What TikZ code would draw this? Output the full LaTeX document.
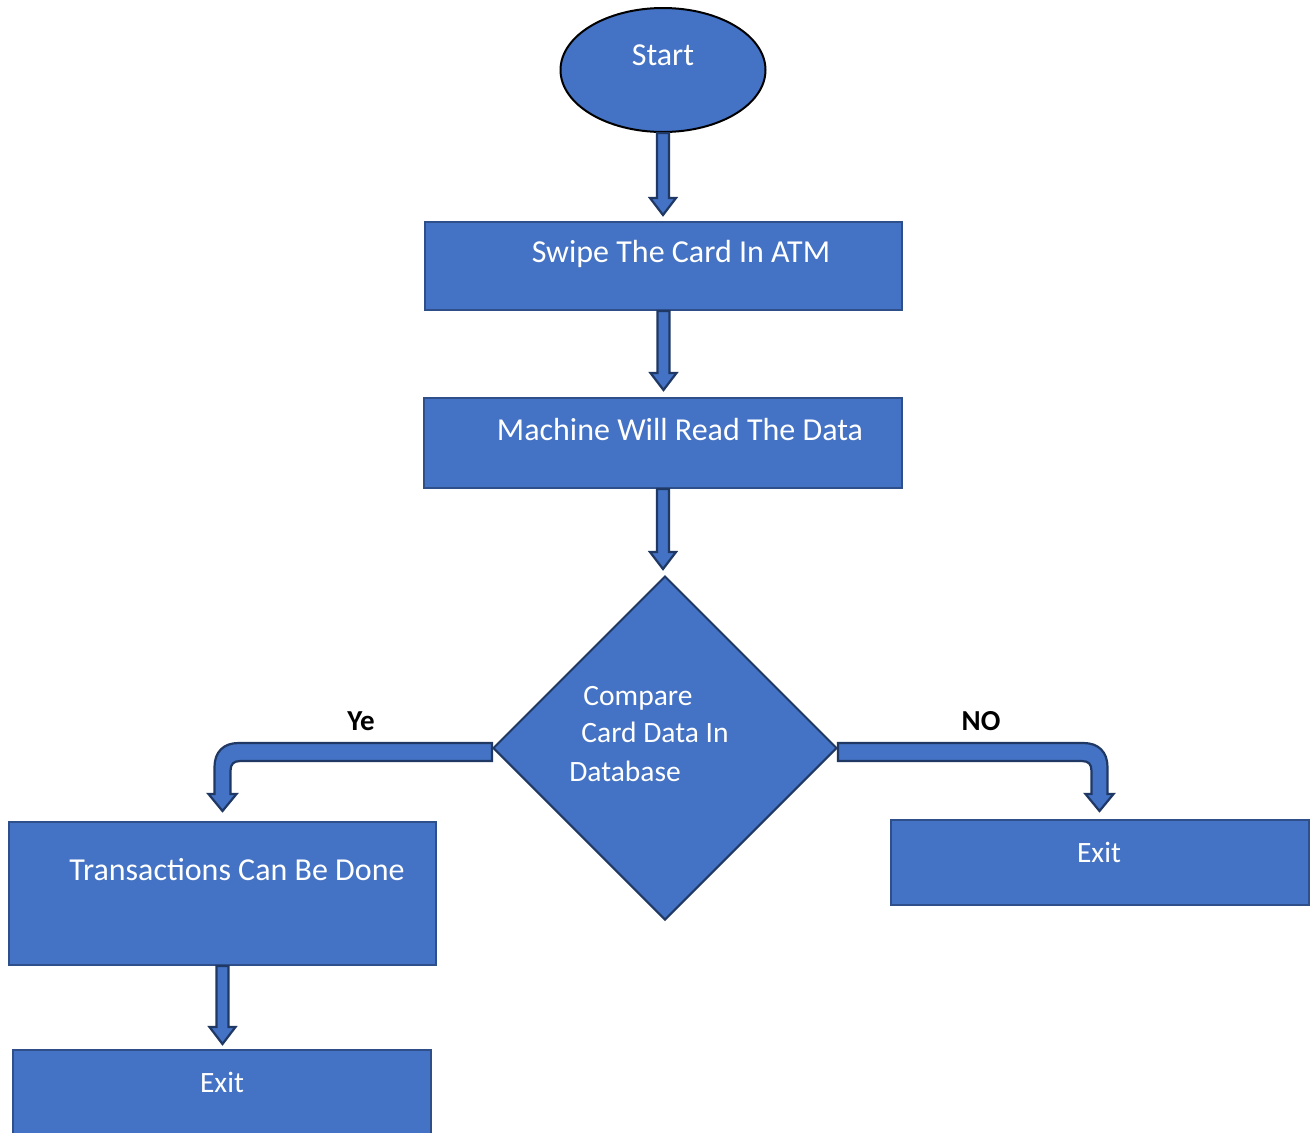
\documentclass[tikz,border=0pt]{standalone}
\usepackage{fontspec}
\setmainfont{Carlito}
\usetikzlibrary{shapes.geometric,calc}
\definecolor{fillblue}{HTML}{4472C4}
\definecolor{edgeblue}{HTML}{2F4F8A}
\definecolor{arrowedge}{HTML}{1F3864}
\tikzset{
  box/.style={draw=edgeblue, line width=2pt, fill=fillblue, rectangle, inner sep=0pt},
  txt/.style={text=white, font=\fontsize{32}{36}\selectfont, inner sep=0pt},
  smalltxt/.style={text=white, font=\fontsize{29.5}{33}\selectfont, inner sep=0pt},
  lbl/.style={text=black, font=\fontsize{29}{32}\selectfont\bfseries, inner sep=0pt},
  barrow/.style={draw=arrowedge, line width=2.2pt, fill=fillblue, line join=miter},
}
\newcommand\blockdown[3]{% source, target, gap
  \draw[barrow] let \p1=(#1.south), \p2=(#2.north) in
    (\x1-6pt,\y1) -- (\x1-6pt,\y2+#3pt+17pt) -- (\x1-13pt,\y2+#3pt+17pt) -- (\x1,\y2+#3pt)
    -- (\x1+13pt,\y2+#3pt+17pt) -- (\x1+6pt,\y2+#3pt+17pt) -- (\x1+6pt,\y1) -- cycle;}
\begin{document}
\begin{tikzpicture}[x=1pt,y=-1pt]
\clip (0,0) rectangle (1310,1133);
\fill[white] (0,0) rectangle (1310,1133);

% shapes
\node[ellipse, draw=black, line width=2pt, fill=fillblue, minimum width=205pt, minimum height=124pt, inner sep=0pt] (start) at (663,70) {};
\node[box, minimum width=477pt, minimum height=88pt] (swipe) at (663.5,266) {};
\node[box, minimum width=478pt, minimum height=90pt] (read) at (663,443) {};
\node[diamond, draw=arrowedge, line width=2pt, fill=fillblue, minimum width=344pt, minimum height=344pt, inner sep=0pt] (dia) at (665,748) {};
\node[box, minimum width=427pt, minimum height=143pt] (trans) at (222.5,893.5) {};
\node[box, minimum width=418pt, minimum height=85pt] (exitR) at (1099.5,862.5) {};
\node[box, minimum width=418pt, minimum height=110pt] (exitB) at (222,1105) {};

% texts
\node[txt] (startT) at (663,55) {Start};
\node[txt] (swipeT) at (681,254) {Swipe The Card In ATM};
\node[txt] (readT) at (680,430) {Machine Will Read The Data};
\node[smalltxt] (diaT1) at (638,698) {Compare};
\node[smalltxt] (diaT2) at (655,732) {Card Data In};
\node[smalltxt] (diaT3) at (625,771) {Database};
\node[txt] (transT) at (237,870) {Transactions Can Be Done};
\node[smalltxt] (exitRT) at (1099,852) {Exit};
\node[smalltxt] (exitBT) at (222,1082) {Exit};
\node[lbl] (yes) at (361,721) {Ye};
\node[lbl] (no) at (981,721) {NO};

% straight block arrows
\blockdown{start}{swipe}{6}
\blockdown{swipe}{read}{7}
\blockdown{read}{dia}{6}
\blockdown{trans}{exitB}{5}

% bent block arrow (left, Ye)
\coordinate (lt) at ($(trans.north)+(0,-10)$);
\coordinate (lc) at (lt |- dia.west);
\draw[barrow] ($(dia.west)+(0,-5)$) -- ($(lc)+(16,-5)$)
  .. controls ($(lc)+(1,-5)$) and ($(lc)+(-8,4)$) .. ($(lc)+(-8,19)$)
  -- ($(lt)+(-8,-17)$) -- ($(lt)+(-14,-17)$) -- (lt) -- ($(lt)+(14,-17)$) -- ($(lt)+(8,-17)$)
  -- ($(lc)+(8,23)$) .. controls ($(lc)+(8,16)$) and ($(lc)+(11,13)$) .. ($(lc)+(18,13)$)
  -- ($(dia.west)+(0,13)$) -- cycle;

% bent block arrow (right, NO)
\coordinate (rt) at ($(exitR.north)+(0,-8)$);
\coordinate (rc) at (rt |- dia.east);
\draw[barrow] ($(dia.east)+(0,-5)$) -- ($(rc)+(-16,-5)$)
  .. controls ($(rc)+(-1,-5)$) and ($(rc)+(8,4)$) .. ($(rc)+(8,19)$)
  -- ($(rt)+(8,-17)$) -- ($(rt)+(14,-17)$) -- (rt) -- ($(rt)+(-14,-17)$) -- ($(rt)+(-8,-17)$)
  -- ($(rc)+(-8,23)$) .. controls ($(rc)+(-8,16)$) and ($(rc)+(-11,13)$) .. ($(rc)+(-18,13)$)
  -- ($(dia.east)+(0,13)$) -- cycle;
\end{tikzpicture}
\end{document}
